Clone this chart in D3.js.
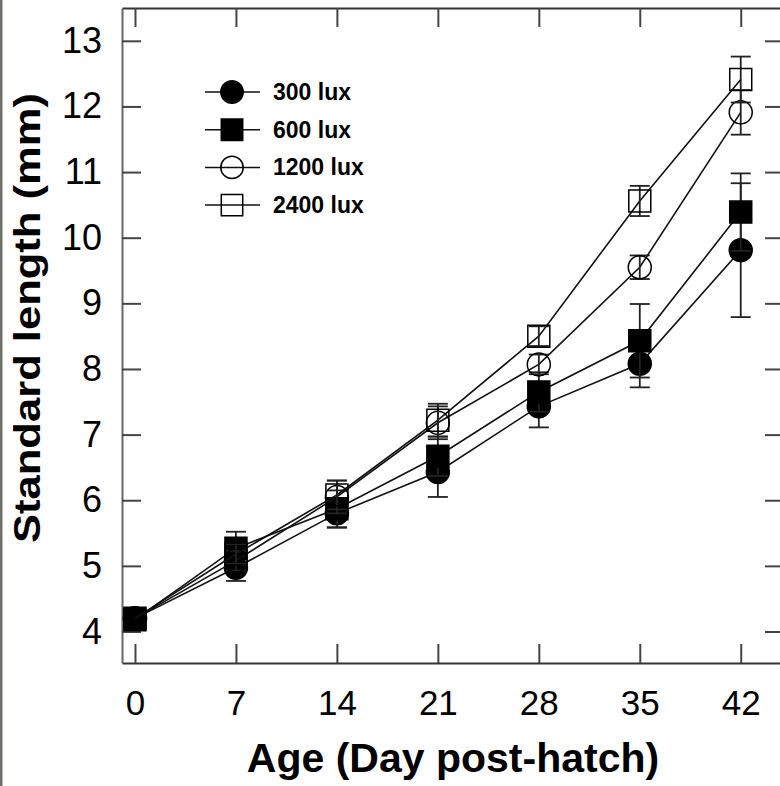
<!DOCTYPE html>
<html>
<head>
<meta charset="utf-8">
<script src="https://cdn.jsdelivr.net/npm/d3@7"></script>
<style>
  body { margin: 0; background: #fff; }
  svg { display: block; font-family: "Liberation Sans", Arial, sans-serif; }
</style>
</head>
<body>
<div id="chart"></div>
<script>
// data
var days = [0, 7, 14, 21, 28, 35, 42];
var seriesNames = ["300 lux", "600 lux", "1200 lux", "2400 lux"];
var lux300  = [4.20, 4.97, 5.80, 6.43, 7.43, 8.08, 9.81];
var err300  = [0, 0.20, 0.22, 0.38, 0.32, 0.36, 1.02];
var lux600  = [4.18, 5.27, 5.87, 6.67, 7.65, 8.43, 10.39];
var err600  = [0, 0.25, 0.28, 0.30, 0.30, 0.56, 0.59];
var lux1200 = [4.20, 5.08, 6.05, 7.18, 8.07, 9.55, 11.91];
var err1200 = [0, 0.15, 0.25, 0.25, 0.15, 0.18, 0.34];
var lux2400 = [4.20, 5.18, 6.08, 7.22, 8.50, 10.56, 12.41];
var err2400 = [0, 0.15, 0.22, 0.25, 0.15, 0.23, 0.35];
var yTicks = [4, 5, 6, 7, 8, 9, 10, 11, 12, 13];

var width = 780, height = 786;

var svg = d3.select("#chart").append("svg")
    .attr("width", width)
    .attr("height", height);

// thin grey strip down the left edge
svg.append("rect").attr("x", 0).attr("y", 0)
    .attr("width", 2.5).attr("height", height)
    .attr("fill", "#707068");

var x = d3.scaleLinear().domain([-0.9, 45]).range([122, 784]);
var y = d3.scaleLinear().domain([3.52, 13.5]).range([663, 8]);

var series = [
  {name: seriesNames[0], vals: lux300,  errs: err300,  shape: d3.symbolCircle, fill: "#000"},
  {name: seriesNames[1], vals: lux600,  errs: err600,  shape: d3.symbolSquare, fill: "#000"},
  {name: seriesNames[2], vals: lux1200, errs: err1200, shape: d3.symbolCircle, fill: "none"},
  {name: seriesNames[3], vals: lux2400, errs: err2400, shape: d3.symbolSquare, fill: "none"}
];
function symSize(s) { return s === d3.symbolCircle ? Math.PI * 11.5 * 11.5 : 22 * 22; }

// axes (ticks point inwards on all four sides)
var gx = svg.append("g").attr("transform", "translate(0,663)")
    .call(d3.axisBottom(x).tickValues(days).tickSize(-19).tickSizeOuter(0).tickPadding(27));
var gxt = svg.append("g").attr("transform", "translate(0,8)")
    .call(d3.axisTop(x).tickValues(days).tickSize(-19).tickSizeOuter(0).tickFormat(""));
var gy = svg.append("g").attr("transform", "translate(122,0)")
    .call(d3.axisLeft(y).tickValues(yTicks).tickSize(-19).tickSizeOuter(0).tickPadding(20));
var gyr = svg.append("g").attr("transform", "translate(784,0)")
    .call(d3.axisRight(y).tickValues(yTicks).tickSize(-19).tickSizeOuter(0).tickFormat(""));

[gx, gxt, gy, gyr].forEach(function(g) {
  g.select(".domain").attr("stroke", "#333").attr("stroke-width", 2);
  g.selectAll(".tick line").attr("stroke", "#444").attr("stroke-width", 2);
});
gy.select(".domain").attr("stroke", "#666");
gx.selectAll(".tick text").attr("font-size", 35).attr("fill", "#000")
    .attr("font-family", "Liberation Sans, Arial, sans-serif");
gy.selectAll(".tick text").attr("font-size", 36).attr("fill", "#000")
    .attr("font-family", "Liberation Sans, Arial, sans-serif");

// axis titles
svg.append("text")
    .attr("x", 453).attr("y", 772)
    .attr("text-anchor", "middle")
    .attr("font-size", 41).attr("font-weight", "bold")
    .text("Age (Day post-hatch)");

svg.append("text")
    .attr("transform", "translate(40,318) rotate(-90)")
    .attr("text-anchor", "middle")
    .attr("font-size", 37).attr("font-weight", "bold")
    .attr("textLength", 450).attr("lengthAdjust", "spacingAndGlyphs")
    .text("Standard length (mm)");

// lines, error bars, markers
var line = d3.line().x(function(d) { return x(d[0]); }).y(function(d) { return y(d[1]); });

series.forEach(function(s) {
  var pts = days.map(function(d, i) { return [d, s.vals[i], s.errs[i]]; });

  svg.append("path").datum(pts)
      .attr("d", line)
      .attr("fill", "none").attr("stroke", "#111").attr("stroke-width", 1.6);

  var eb = svg.append("g").selectAll("g")
      .data(pts.filter(function(d) { return d[2] > 0; }))
      .enter().append("g");
  eb.append("line")
      .attr("x1", function(d) { return x(d[0]); }).attr("x2", function(d) { return x(d[0]); })
      .attr("y1", function(d) { return y(d[1] - d[2]); }).attr("y2", function(d) { return y(d[1] + d[2]); })
      .attr("stroke", "#222").attr("stroke-width", 1.8);
  [-1, 1].forEach(function(sg) {
    eb.append("line")
        .attr("x1", function(d) { return x(d[0]) - 10; }).attr("x2", function(d) { return x(d[0]) + 10; })
        .attr("y1", function(d) { return y(d[1] + sg * d[2]); }).attr("y2", function(d) { return y(d[1] + sg * d[2]); })
        .attr("stroke", "#222").attr("stroke-width", 1.8);
  });

  svg.append("g").selectAll("path").data(pts).enter().append("path")
      .attr("d", d3.symbol().type(s.shape).size(symSize(s.shape)))
      .attr("transform", function(d) { return "translate(" + x(d[0]) + "," + y(d[1]) + ")"; })
      .attr("fill", s.fill)
      .attr("stroke", "#000").attr("stroke-width", 1.5);
});

// legend
var legend = svg.selectAll(".legend")
    .data(series)
    .enter().append("g")
    .attr("class", "legend")
    .attr("transform", function(d, i) { return "translate(0," + (92 + i * 37.7) + ")"; });

legend.append("line")
    .attr("x1", 205).attr("x2", 260).attr("y1", 0).attr("y2", 0)
    .attr("stroke", "#111").attr("stroke-width", 1.5);
legend.append("path")
    .attr("d", function(d) { return d3.symbol().type(d.shape).size(symSize(d.shape) * 0.95)(); })
    .attr("transform", "translate(232,0)")
    .attr("fill", function(d) { return d.fill; })
    .attr("stroke", "#000").attr("stroke-width", 1.5);
legend.append("text")
    .attr("x", 273).attr("y", 8)
    .attr("font-size", 23).attr("font-weight", "bold")
    .text(function(d) { return d.name; });
</script>
</body>
</html>
